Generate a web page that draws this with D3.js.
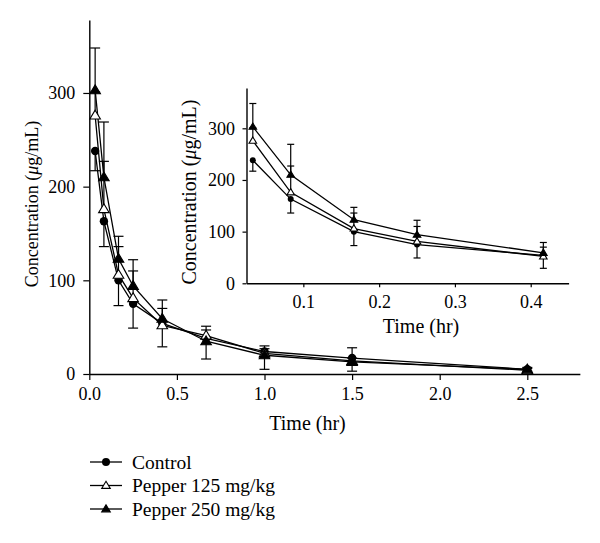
<!DOCTYPE html>
<html><head><meta charset="utf-8">
<script src="https://cdn.jsdelivr.net/npm/d3@7"></script>
<style>
body{margin:0;background:#fff;}
svg{display:block;}
text{font-family:"Liberation Serif","Times New Roman",serif;fill:#000;}
</style></head>
<body><svg id="c" width="600" height="543"></svg>
<script>
const times = [2/60, 5/60, 10/60, 15/60, 25/60, 40/60, 1, 1.5, 2.5];
const control = [238, 163, 100, 75, 54, 38, 24, 17, 5];
const controlErr = [21, 27, 27, 26, 25, 22, 19, 14, 2];   // drawn downward
const pepper125 = [276, 176, 106, 81, 52, 41, 22, 14, 4];
const pepper125Err = [25, 51, 30, 29, 18, 10, 5, 3, 2];   // drawn upward
const pepper250 = [303, 210, 123, 94, 59, 35, 20, 13, 5];
const pepper250Err = [45, 59, 24, 28, 20, 12, 10, 15, 2]; // drawn upward
const seriesNames = ["Control", "Pepper 125 mg/kg", "Pepper 250 mg/kg"];
const mainXTicks = [0, 0.5, 1, 1.5, 2, 2.5];
const yTicks = [0, 100, 200, 300];
const insetXTicks = [0.1, 0.2, 0.3, 0.4];
const insetMaxTime = 0.45;

const series = [
  {name: seriesNames[0], vals: control, err: controlErr, dir: -1, shape: "circle", fill: "#000"},
  {name: seriesNames[1], vals: pepper125, err: pepper125Err, dir: 1, shape: "triangle", fill: "#fff"},
  {name: seriesNames[2], vals: pepper250, err: pepper250Err, dir: 1, shape: "triangle", fill: "#000"}
];

const svg = d3.select("#c");

function drawPanel(opt){
  const g = svg.append("g");
  const x = d3.scaleLinear().domain(opt.xDomain).range(opt.xRange);
  const y = d3.scaleLinear().domain([0, 378]).range(opt.yRange);
  const xAxis = g.append("g").attr("transform", `translate(0,${opt.yRange[0]})`)
    .call(d3.axisBottom(x).tickValues(opt.xTicks).tickFormat(d3.format(".1f")).tickSize(opt.tick).tickPadding(opt.xPad).tickSizeOuter(0));
  const yAxis = g.append("g").attr("transform", `translate(${opt.xRange[0]},0)`)
    .call(d3.axisLeft(y).tickValues(yTicks).tickFormat(d3.format("d")).tickSize(opt.tick).tickPadding(opt.yPad).tickSizeOuter(0));
  [xAxis, yAxis].forEach(a => {
    a.selectAll("path").attr("stroke", "#000").attr("stroke-width", 1.4);
    a.selectAll("line").attr("stroke", "#000").attr("stroke-width", 1.2);
    a.selectAll("text").style("font-size", "18px").attr("fill", "#000");
  });

  const idx = times.map((t,i)=>i).filter(i => times[i] <= opt.xDomain[1]);
  const line = d3.line().x(i => x(times[i]));
  series.forEach(s => {
    g.append("path").attr("d", line.y(i => y(s.vals[i]))(idx))
      .attr("fill", "none").attr("stroke", "#000").attr("stroke-width", 1.3);
  });
  series.forEach(s => {
    idx.forEach(i => {
      const cx = x(times[i]);
      const y0 = y(s.vals[i]), y1 = y(s.vals[i] + s.dir * s.err[i]);
      g.append("line").attr("x1", cx).attr("x2", cx).attr("y1", y0).attr("y2", y1)
        .attr("stroke", "#000").attr("stroke-width", 1.2);
      g.append("line").attr("x1", cx - opt.cap).attr("x2", cx + opt.cap).attr("y1", y1).attr("y2", y1)
        .attr("stroke", "#000").attr("stroke-width", 1.2);
    });
  });
  series.forEach(s => {
    idx.forEach(i => {
      drawMarker(g, s, x(times[i]), y(s.vals[i]), opt.r);
    });
  });
}

function drawMarker(g, s, cx, cy, r){
  if (s.shape === "circle") {
    g.append("circle").attr("cx", cx).attr("cy", cy).attr("r", r).attr("fill", "#000");
  } else {
    const h = r * 2.1, w = r * 1.2;
    g.append("path").attr("d", `M${cx},${cy - h*0.6}L${cx + w*1.05},${cy + h*0.4}L${cx - w*1.05},${cy + h*0.4}Z`)
      .attr("fill", s.fill).attr("stroke", "#000").attr("stroke-width", 1.1);
  }
}

// main chart
drawPanel({xDomain:[0, 2.8], xRange:[89.3, 89.3 + 2.8*175.2], yRange:[374, 19.9], xTicks: mainXTicks,
  tick: 6, xPad: 7, yPad: 8, cap: 5, r: 4.2});
// inset
drawPanel({xDomain:[0.025, insetMaxTime], xRange:[246.5, 568.6], yRange:[283.3, 88], xTicks: insetXTicks,
  tick: 4, xPad: 8, yPad: 7.5, cap: 3.5, r: 3});

// axis titles
svg.append("text").attr("x", 307.5).attr("y", 430).attr("text-anchor", "middle").style("font-size", "20px").text("Time (hr)");
svg.append("text").attr("x", 421).attr("y", 333).attr("text-anchor", "middle").style("font-size", "20px").text("Time (hr)");
function yTitle(x, y, fs){
  const t = svg.append("text").attr("transform", `translate(${x},${y}) rotate(-90)`)
    .attr("text-anchor", "middle").attr("dy", "0.35em").style("font-size", fs + "px");
  t.append("tspan").text("Concentration (");
  t.append("tspan").style("font-style", "italic").text("\u03bc");
  t.append("tspan").text("g/mL)");
}
yTitle(32, 204, 18);
yTitle(189, 192, 20);

// legend
const leg = svg.append("g");
series.forEach((s, k) => {
  const ly = 462 + k * 23.5;
  leg.append("line").attr("x1", 90).attr("x2", 122).attr("y1", ly).attr("y2", ly).attr("stroke", "#000").attr("stroke-width", 1.3);
  drawMarker(leg, s, 106, ly, s.shape === "circle" ? 4 : 3.4);
  leg.append("text").attr("x", 132).attr("y", ly + 6.5).style("font-size", "19.5px").text(s.name);
});
</script></body></html>
